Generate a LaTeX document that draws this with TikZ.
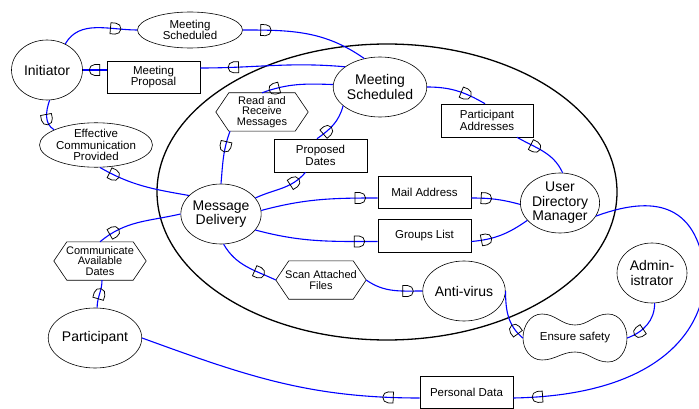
\documentclass[tikz,border=0pt]{standalone}
\usepackage{fontspec}
\setmainfont{Liberation Sans}
\usetikzlibrary{shapes.geometric,decorations.markings,calc}

\tikzset{
  actor/.style={ellipse, draw, line width=0.6pt, minimum width=71pt, minimum height=60pt, inner sep=0pt, align=center, font=\fontsize{14}{14.5}\selectfont},
  goal/.style={ellipse, draw, line width=0.6pt, inner sep=0pt, align=center, font=\fontsize{11.5}{11.5}\selectfont},
  res/.style={rectangle, draw, line width=0.6pt, inner sep=0pt, align=center, font=\fontsize{11.5}{11.5}\selectfont},
  task/.style={rectangle, inner sep=0pt, align=center, font=\fontsize{11}{10.6}\selectfont},
  hexline/.style={line width=0.6pt},
  dep/.style={blue, line width=1.1pt, postaction={decorate, decoration={markings, mark=at position #1 with {\draw[black, line width=0.75pt] (-5pt,-5.5pt) -- (-5pt,5.5pt) -- (0pt,5.5pt) arc[start angle=90, end angle=-90, radius=5.5pt] -- cycle;}}}},
}

\begin{document}
\begin{tikzpicture}[x=1pt,y=1pt]
\useasboundingbox (0,0) rectangle (699,-409);

% actor boundary
\node[ellipse, draw, line width=1.3pt, minimum width=460pt, minimum height=296pt, inner sep=0pt] (bnd) at (387,-192) {};

% actors
\node[actor] (init) at (47,-70) {Initiator};
\node[actor] (msa) at (380,-87) {Meeting\\Scheduled};
\node[actor] (md) at (221,-214) {Message\\Delivery};
\node[actor] (udm) at (560,-203) {User\\Directory\\Manager};
\node[actor, minimum width=70pt] (av) at (464,-291) {Anti-virus};
\node[actor, minimum width=70pt] (adm) at (652,-273) {Admin-\\istrator};
\node[actor] (part) at (95,-338) {Participant};

% goals
\node[goal, minimum width=105pt, minimum height=36pt] (gms) at (190,-30) {Meeting\\Scheduled};
\node[goal, minimum width=105pt, minimum height=41pt] (gecp) at (96,-145) {Effective\\Communication\\Provided};

% resources
\node[res, minimum width=93pt, minimum height=32pt] (rmp) at (153.5,-77) {Meeting\\Proposal};
\node[res, minimum width=93pt, minimum height=33pt] (rpd) at (320.5,-155.5) {Proposed\\Dates};
\node[res, minimum width=92pt, minimum height=33pt] (rpa) at (487,-120.5) {Participant\\Addresses};
\node[res, minimum width=93pt, minimum height=32pt] (rma) at (424.5,-192) {Mail Address};
\node[res, minimum width=93pt, minimum height=33pt] (rgl) at (424.5,-235.5) {Groups List};
\node[res, minimum width=93pt, minimum height=32pt] (rpers) at (466.5,-392) {Personal Data};

% tasks
\node[task, minimum width=92pt, minimum height=38pt] (trr) at (262,-112) {Read and\\Receive\\Messages};
\node[task, minimum width=92pt, minimum height=38pt] (tcad) at (100,-261) {Communicate\\Available\\Dates};
\node[task, minimum width=90pt, minimum height=38pt] (tsaf) at (321,-280) {Scan Attached\\Files};
\foreach \n in {trr,tcad,tsaf} {
  \draw[hexline] (\n.west) -- ([xshift=13pt]\n.north west) -- ([xshift=-13pt]\n.north east) -- (\n.east) -- ([xshift=-13pt]\n.south east) -- ([xshift=13pt]\n.south west) -- cycle;
}

% softgoal
\node[font=\fontsize{11.5}{11.5}\selectfont, minimum width=104pt, minimum height=49pt, inner sep=0pt] (es) at (575,-338) {Ensure safety};
\draw[hexline, shift={(es.center)}] (-52,0) to[out=90,in=180] (-33,24) to[out=0,in=180] (0,13) to[out=0,in=180] (33,24) to[out=0,in=90] (52,0) to[out=-90,in=0] (33,-24) to[out=180,in=0] (0,-14) to[out=180,in=0] (-33,-22) to[out=180,in=-90] (-52,0) -- cycle;

% dependencies
% Meeting Scheduled (goal)
\draw[dep=0.72] (init.55) to[out=60,in=180] (gms.west);
\draw[dep=0.18] (gms.east) to[out=0,in=145] (msa.119);
% Meeting Proposal
\draw[dep=0.77] (msa.150) to[out=175,in=0] ([yshift=9pt]rmp.east);
\draw[dep=0.5] ([yshift=7pt]rmp.west) -- (init.east);
% Effective Communication Provided
\draw[dep=0.6] (init.275) to[out=250,in=150] (gecp.160);
\draw[dep=0.17] (gecp.280) to[out=-30,in=170] (md.150);
% Read and Receive Messages
\draw[dep=0.82] (msa.177) to[out=178,in=20] (trr.north);
\draw[dep=0.3] ([xshift=-32pt]trr.south) to[out=250,in=85] (md.north);
% Proposed Dates
\draw[dep=0.74] (md.25) to[out=25,in=230] ([xshift=-15pt]rpd.south);
\draw[dep=0.3] ([xshift=-3.5pt]rpd.north) to[out=35,in=255] (msa.207);
% Mail Address
\draw[dep=0.85] (md.5) to[out=15,in=180] ([yshift=-6pt]rma.west);
\draw[dep=0.3] ([yshift=-6pt]rma.east) to[out=0,in=165] (udm.182);
% Groups List
\draw[dep=0.85] (md.-25) to[out=-15,in=180] ([yshift=-6pt]rgl.west);
\draw[dep=0.25] ([yshift=-6pt]rgl.east) to[out=5,in=215] (udm.208);
% Participant Addresses
\draw[dep=0.65] (msa.0) to[out=0,in=150] ([xshift=-2pt]rpa.north);
\draw[dep=0.35] ([xshift=30pt]rpa.south) to[out=-30,in=115] (udm.85);
% Communicate Available Dates
\draw[dep=0.5] (part.86) to[out=90,in=-90] ([xshift=2pt]tcad.south);
\draw[dep=0.2] (tcad.north) to[out=40,in=193] (md.west);
% Scan Attached Files
\draw[dep=0.72] (md.-85) to[out=-60,in=155] (tsaf.west);
\draw[dep=0.75] (tsaf.east) to[out=-35,in=180] (av.west);
% Ensure safety
\draw[dep=0.72] (adm.275) to[out=-90,in=20] (es.east);
\draw[dep=0.22] (es.west) to[out=140,in=-90] (av.east);
% Personal Data
\draw[dep=0.94] (udm.340) .. controls (640,-200) and (690,-195) .. (703,-260) .. controls (713,-310) and (680,-395) .. ([yshift=-6pt]rpers.east);
\draw[dep=0.11] ([yshift=-6pt]rpers.west) to[out=180,in=-20] (part.east);
\end{tikzpicture}
\end{document}
